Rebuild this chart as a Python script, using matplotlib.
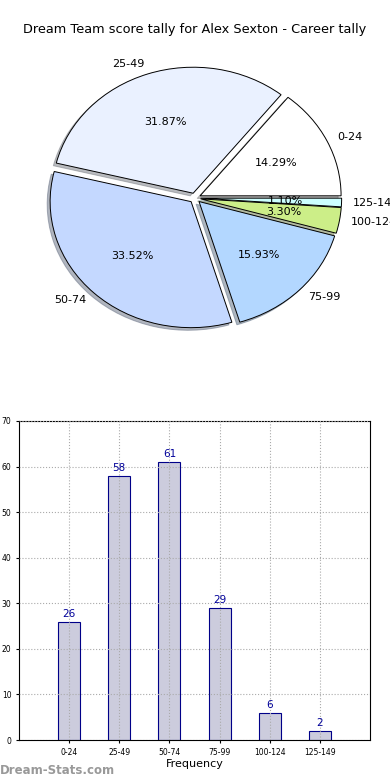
import matplotlib
matplotlib.use("Agg")
import matplotlib.pyplot as plt

# score bands and how often each happened
bands = ['0-24', '25-49', '50-74', '75-99', '100-124', '125-149']
counts = [26, 58, 61, 29, 6, 2]
pie_colors = ['#ffffff', '#eaf1ff', '#c4d8ff', '#b3d7ff', '#ccee88', '#ccffff']

fig = plt.figure(figsize=(3.9, 7.8), dpi=100)

# pie, centre at about (195, 198) px, a bit squashed vertically like the original
ax1 = fig.add_axes([0, (780 - 198 - 190) / 780, 1, 380 / 780])
ax1.pie(counts, labels=bands, colors=pie_colors, startangle=0,
        explode=[0.04] * len(counts),
        shadow={'ox': -0.015, 'oy': -0.015, 'shade': 0.5},
        autopct='%.2f%%', pctdistance=0.6, labeldistance=1.08,
        wedgeprops={'edgecolor': 'black', 'linewidth': 0.7},
        textprops={'fontsize': 8})
ax1.set_xlim(-195 / 141, 195 / 141)
ax1.set_ylim(-190 / 126, 190 / 126)
ax1.set_aspect('auto')
ax1.axis('off')

fig.text(0.5, 1 - 30 / 780, 'Dream Team score tally for Alex Sexton - Career tally',
         ha='center', va='center', fontsize=9.3)

# bar chart
ax2 = fig.add_axes([19 / 390, 40 / 780, 351 / 390, 319 / 780])
x = list(range(len(bands)))
ax2.bar(x, counts, width=0.44, color='#ccccdd', edgecolor='#000088', linewidth=0.8, zorder=2)
for i, c in zip(x, counts):
    ax2.text(i, c + 0.6, str(c), ha='center', va='bottom', fontsize=7.5, color='#000099')
ax2.set_xlim(-1, 6)
ax2.set_ylim(0, 70)
ax2.set_xticks(x)
ax2.set_xticklabels(bands, fontsize=5.5)
ax2.set_yticks(range(0, 71, 10))
ax2.tick_params(axis='y', labelsize=5.5)
ax2.tick_params(length=2)
ax2.grid(True, linestyle=':', color='#aaaaaa', linewidth=0.8, zorder=3)
ax2.set_axisbelow(False)
ax2.set_xlabel('Frequency', fontsize=8, labelpad=2)

fig.text(0.0, 1 - 770 / 780, 'Dream-Stats.com', fontsize=8.5, color='#999999',
         fontweight='bold', ha='left', va='center')

fig.savefig('out.png', dpi=100)
